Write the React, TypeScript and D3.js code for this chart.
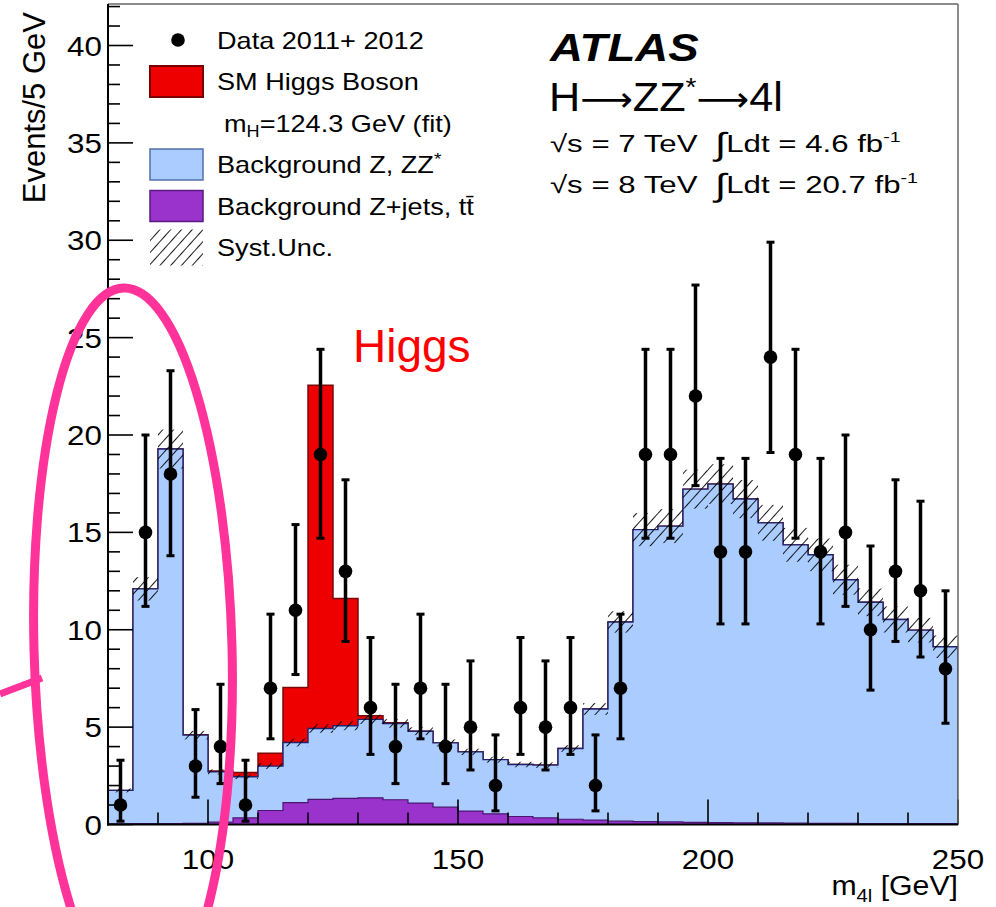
import React from 'react';
import * as d3 from 'd3';

// ---------- data ----------
const binLow = [80, 85, 90, 95, 100, 105, 110, 115, 120, 125, 130, 135, 140, 145, 150, 155, 160, 165, 170, 175, 180, 185, 190, 195, 200, 205, 210, 215, 220, 225, 230, 235, 240, 245];
const dataCounts = [1, 15, 18, 3, 4, 1, 7, 11, 19, 13, 6, 4, 7, 4, 5, 2, 6, 5, 6, 2, 7, 19, 19, 22, 14, 14, 24, 19, 14, 15, 10, 13, 12, 8];
const dataErrLow = [0.17, 11.2, 13.8, 1.4, 2.1, 0.17, 4.4, 7.7, 14.7, 9.4, 3.6, 2.1, 4.4, 2.1, 2.8, 0.7, 3.6, 2.8, 3.6, 0.7, 4.4, 14.7, 14.7, 17.4, 10.3, 10.3, 19.1, 14.7, 10.3, 11.2, 6.9, 9.4, 8.6, 5.2];
const dataErrHigh = [3.3, 20.0, 23.3, 5.9, 7.2, 3.3, 10.8, 15.4, 24.4, 17.7, 9.6, 7.2, 10.8, 7.2, 8.4, 4.6, 9.6, 8.4, 9.6, 4.6, 10.8, 24.4, 24.4, 27.7, 18.8, 18.8, 29.9, 24.4, 18.8, 20.0, 14.3, 17.7, 16.6, 12.0];
const zjetsBkg = [0.03, 0.04, 0.05, 0.06, 0.12, 0.34, 0.72, 1.12, 1.29, 1.34, 1.37, 1.27, 1.1, 0.89, 0.69, 0.55, 0.41, 0.34, 0.27, 0.22, 0.17, 0.15, 0.13, 0.11, 0.1, 0.09, 0.08, 0.07, 0.06, 0.06, 0.05, 0.05, 0.04, 0.04];
const zzBkg = [1.72, 12.06, 19.23, 4.53, 2.58, 2.11, 2.28, 3.09, 3.64, 3.73, 4.03, 3.92, 3.69, 3.3, 3.04, 2.78, 2.67, 2.71, 3.63, 5.71, 10.23, 14.99, 15.19, 17.11, 17.38, 16.62, 15.41, 14.29, 13.79, 12.51, 11.36, 10.48, 9.94, 9.09];
const higgsSignal = [0, 0, 0, 0.02, 0.05, 0.22, 0.66, 2.83, 17.63, 6.53, 0.18, 0.03, 0, 0, 0, 0, 0, 0, 0, 0, 0, 0, 0, 0, 0, 0, 0, 0, 0, 0, 0, 0, 0, 0];
const systUnc = [0.1, 0.6, 1.0, 0.22, 0.13, 0.12, 0.15, 0.2, 0.22, 0.23, 0.24, 0.22, 0.2, 0.18, 0.16, 0.15, 0.14, 0.14, 0.17, 0.3, 0.55, 0.85, 0.87, 1.0, 1.02, 0.98, 0.92, 0.87, 0.84, 0.77, 0.71, 0.67, 0.63, 0.58];
const xMajorTicks = [100, 150, 200, 250];
const xMinorTicks = [90, 110, 120, 130, 140, 160, 170, 180, 190, 210, 220, 230, 240];
const yMajorTicks = [0, 5, 10, 15, 20, 25, 30, 35, 40];
const yMinorTicks = d3.range(0, 43);
const BIN_W = 5;

const FONT = "'Liberation Sans', Arial, Helvetica, sans-serif";

type TP = {
  x: number; y: number; size: number; sx?: number; anchor?: string;
  weight?: string; italic?: boolean; fill?: string; children: React.ReactNode;
};
function T({ x, y, size, sx = 1, anchor = 'start', weight, italic, fill = '#000', children }: TP) {
  return (
    <text
      transform={`translate(${x},${y}) scale(${sx},1)`}
      fontSize={size}
      textAnchor={anchor as any}
      fontFamily={FONT}
      fontWeight={weight}
      fontStyle={italic ? 'italic' : undefined}
      fill={fill}
      style={{ whiteSpace: 'pre' }}
    >
      {children}
    </text>
  );
}

export default function App() {
  const x = d3.scaleLinear().domain([80, 250]).range([108, 958]);
  const y = d3.scaleLinear().domain([0, 40]).range([824.5, 45.5]);
  const yTop = y.invert(4);

  const cumZj = zjetsBkg;
  const cumBkg = zjetsBkg.map((v, i) => v + zzBkg[i]);
  const cumAll = cumBkg.map((v, i) => v + higgsSignal[i]);

  const line = d3.line<[number, number]>().x(d => x(d[0])).y(d => y(d[1]));
  const stepPts = (vals: number[]): [number, number][] => {
    const pts: [number, number][] = [[binLow[0], 0]];
    vals.forEach((v, i) => {
      pts.push([binLow[i], v]);
      pts.push([binLow[i] + BIN_W, v]);
    });
    pts.push([binLow[binLow.length - 1] + BIN_W, 0]);
    return pts;
  };

  const legendRow = (i: number) => 40 + 41.5 * i;
  const LX = 217;
  const LF = 24;
  const LSX = 1.13;

  return (
    <svg width={996} height={907} style={{ position: 'absolute', left: 0, top: 0, background: '#fff' }}>
      <defs>
        <pattern id="hatch" patternUnits="userSpaceOnUse" width={8} height={8} patternTransform="rotate(42)">
          <line x1={0} y1={0} x2={0} y2={8} stroke="#000" strokeWidth={1.8} />
        </pattern>
        <clipPath id="plotClip">
          <rect x={108} y={4} width={850} height={820.5} />
        </clipPath>
      </defs>
      <rect x={0} y={0} width={996} height={907} fill="#fff" />

      <g clipPath="url(#plotClip)">
        {/* stacked histograms */}
        <path d={line(stepPts(cumAll))! + 'Z'} fill="#ee0000" stroke="#7a0a0a" strokeWidth={1.5} />
        <path d={line(stepPts(cumBkg))! + 'Z'} fill="#aaccff" stroke="#22226e" strokeWidth={1.4} />
        <path d={line(stepPts(cumZj))! + 'Z'} fill="#9933cc" stroke="#4a1670" strokeWidth={1.2} />
        {/* syst band */}
        {cumBkg.map((v, i) => (
          <rect key={'h' + i} x={x(binLow[i])} width={x(binLow[i] + BIN_W) - x(binLow[i])}
            y={y(v + systUnc[i])} height={y(v - systUnc[i]) - y(v + systUnc[i])} fill="url(#hatch)" />
        ))}
      </g>

      {/* ticks */}
      {yMinorTicks.map(t => (
        <line key={'ym' + t} x1={108} x2={108 + (t % 5 === 0 ? 25 : 12)} y1={y(t)} y2={y(t)} stroke="#000" strokeWidth={1.6} />
      ))}
      {xMajorTicks.map(t => (
        <line key={'xM' + t} x1={x(t)} x2={x(t)} y1={824.5} y2={824.5 - 25} stroke="#000" strokeWidth={1.6} />
      ))}
      {xMinorTicks.map(t => (
        <line key={'xm' + t} x1={x(t)} x2={x(t)} y1={824.5} y2={824.5 - 12} stroke="#000" strokeWidth={1.6} />
      ))}

      {/* frame */}
      <line x1={108} x2={958} y1={y(yTop)} y2={y(yTop)} stroke="#666" strokeWidth={1.5} />
      <line x1={958} x2={958} y1={4} y2={824.5} stroke="#666" strokeWidth={1.5} />
      <line x1={108} x2={108} y1={4} y2={825.5} stroke="#000" strokeWidth={2} />
      <line x1={107} x2={958} y1={824.5} y2={824.5} stroke="#000" strokeWidth={2} />

      {/* data */}
      {dataCounts.map((n, i) => {
        const cx = x(binLow[i] + BIN_W / 2);
        return (
          <g key={'d' + i}>
            <line x1={cx} x2={cx} y1={y(dataErrLow[i])} y2={y(dataErrHigh[i])} stroke="#000" strokeWidth={3.5} />
            <line x1={cx - 4} x2={cx + 4} y1={y(dataErrLow[i])} y2={y(dataErrLow[i])} stroke="#000" strokeWidth={3} />
            <line x1={cx - 4} x2={cx + 4} y1={y(dataErrHigh[i])} y2={y(dataErrHigh[i])} stroke="#000" strokeWidth={3} />
            <circle cx={cx} cy={y(n)} r={6.8} fill="#000" />
          </g>
        );
      })}

      {/* tick labels */}
      {yMajorTicks.map(t => (
        <T key={'yl' + t} x={102} y={y(t) + 10} size={28} sx={1.12} anchor="end">{String(t)}</T>
      ))}
      {xMajorTicks.map(t => (
        <T key={'xl' + t} x={x(t)} y={869} size={28} sx={1.12} anchor="middle">{String(t)}</T>
      ))}

      {/* axis titles */}
      <T x={958} y={895} size={27} sx={1.12} anchor="end">
        m<tspan fontSize={18} dy={7}>4l</tspan><tspan dy={-7}> [GeV]</tspan>
      </T>
      <text transform="translate(45,12) rotate(-90)" fontSize={31} textAnchor="end" fontFamily={FONT}>Events/5 GeV</text>

      {/* legend */}
      <circle cx={178} cy={legendRow(0)} r={6.8} fill="#000" />
      <T x={LX} y={legendRow(0) + 8.5} size={LF} sx={LSX}>Data 2011+ 2012</T>
      <rect x={150} y={legendRow(1) - 15.5} width={53} height={31} fill="#ee0000" stroke="#7a0000" strokeWidth={2} />
      <T x={LX} y={legendRow(1) + 8.5} size={LF} sx={LSX}>SM Higgs Boson</T>
      <T x={224} y={legendRow(2) + 8.5} size={LF} sx={LSX}>
        m<tspan fontSize={16} dy={5}>H</tspan><tspan dy={-5}>=124.3 GeV (fit)</tspan>
      </T>
      <rect x={150} y={legendRow(3) - 15.5} width={53} height={31} fill="#aaccff" stroke="#5070a8" strokeWidth={1.5} />
      <T x={LX} y={legendRow(3) + 8.5} size={LF} sx={LSX}>
        Background Z, ZZ<tspan fontSize={17} dy={-8}>*</tspan>
      </T>
      <rect x={150} y={legendRow(4) - 15.5} width={53} height={31} fill="#9933cc" stroke="#5a1a80" strokeWidth={1.5} />
      <T x={LX} y={legendRow(4) + 8.5} size={LF} sx={LSX}>Background Z+jets, t{'t\u0304'}</T>
      <rect x={150} y={legendRow(5) - 18} width={53} height={36} fill="url(#hatch)" />
      <T x={LX} y={legendRow(5) + 8.5} size={LF} sx={LSX}>Syst.Unc.</T>

      {/* ATLAS labels */}
      <T x={550} y={61} size={38} sx={1.2} weight="bold" italic>ATLAS</T>
      <T x={549} y={111} size={40} sx={1.08}>
        H<tspan fontFamily="'DejaVu Sans', sans-serif" fontSize={34}>{'\u27F6'}</tspan>ZZ<tspan fontSize={26} dy={-15}>*</tspan><tspan dy={15} fontFamily="'DejaVu Sans', sans-serif" fontSize={34}>{'\u27F6'}</tspan>4l
      </T>
      <T x={550} y={152} size={24} sx={1.3}>
        {'\u221As = 7 TeV  '}<tspan fontSize={32} dy={3}>{'\u222B'}</tspan><tspan dy={-3}>{'Ldt = 4.6 fb'}</tspan><tspan fontSize={15} dy={-10}>-1</tspan>
      </T>
      <T x={550} y={193} size={24} sx={1.3}>
        {'\u221As = 8 TeV  '}<tspan fontSize={32} dy={3}>{'\u222B'}</tspan><tspan dy={-3}>{'Ldt = 20.7 fb'}</tspan><tspan fontSize={15} dy={-10}>-1</tspan>
      </T>

      {/* annotation */}
      <T x={353} y={362} size={46} fill="#ff0000">Higgs</T>
      <ellipse cx={133} cy={648} rx={99} ry={360} transform="rotate(-1.5,133,648)" fill="none" stroke="#ff3399" strokeWidth={9} />
      <line x1={0} y1={694} x2={42} y2={678} stroke="#ff3399" strokeWidth={7} />
    </svg>
  );
}
